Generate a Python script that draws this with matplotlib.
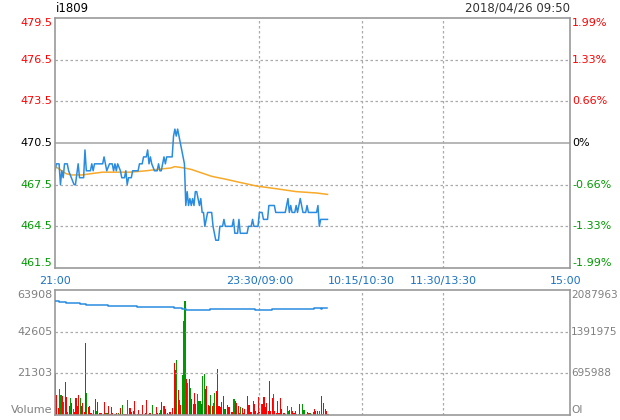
import numpy as np
import matplotlib.pyplot as plt

# price line readings (minute since 21:00, price)
price_t = [0, 1, 3, 4, 5, 6, 7, 9, 10, 12, 14, 15, 17, 18, 21, 22, 23, 26, 27, 28,
           29, 35, 36, 38, 40, 42, 43, 44, 45, 46, 48, 49, 51, 52, 53, 54, 56, 57, 61, 62,
           64, 65, 67, 68, 69, 70, 71, 73, 75, 76, 77, 78, 79, 80, 81, 82, 86, 87, 88, 89,
           90, 91, 92, 93, 95, 96, 97, 98, 99, 100, 101, 102, 103, 104, 105, 106, 107, 108, 109, 110,
           111, 112, 115, 116, 117, 118, 120, 121, 123, 124, 125, 130, 131, 132, 134, 135, 136, 141, 142, 144,
           145, 146, 149, 150, 152, 153, 156, 157, 161, 162, 169, 170, 171, 172, 173, 174, 176, 177, 178, 179,
           180, 181, 182, 184, 185, 186, 192, 193, 194, 195, 200]
price_v = [468.5, 469.0, 469.0, 467.5, 468.5, 468.0, 469.0, 469.0, 468.5, 468.0, 467.5, 467.5, 469.0, 468.0, 468.0, 470.0, 468.5, 468.5, 469.0, 468.5,
           469.0, 469.0, 469.5, 468.5, 469.0, 469.0, 468.5, 469.0, 468.5, 469.0, 468.5, 468.0, 468.0, 468.5, 467.5, 468.0, 468.0, 468.5, 468.5, 469.0,
           469.0, 469.5, 469.5, 470.0, 469.0, 469.5, 469.0, 468.5, 468.5, 469.0, 468.5, 468.5, 469.0, 469.5, 469.0, 469.5, 469.5, 471.0, 471.5, 471.0,
           471.5, 471.0, 470.5, 470.0, 469.0, 466.0, 467.0, 466.0, 466.5, 466.0, 466.5, 466.0, 467.0, 467.0, 466.5, 466.0, 466.5, 465.5, 465.5, 464.5,
           465.0, 465.5, 465.5, 464.5, 464.0, 463.5, 463.5, 464.5, 464.5, 465.0, 464.5, 464.5, 465.0, 464.0, 464.0, 465.0, 464.0, 464.0, 464.5, 464.5,
           465.0, 464.5, 464.5, 465.5, 465.5, 465.0, 465.0, 466.0, 466.0, 465.5, 465.5, 466.0, 466.5, 465.5, 466.0, 465.5, 465.5, 466.0, 465.5, 466.0,
           466.5, 466.0, 465.5, 465.5, 466.0, 465.5, 465.5, 466.0, 464.5, 465.0, 465.0]

# average price line
avg_t = [0, 2, 5, 8, 12, 20, 27, 35, 45, 55, 67, 75, 85, 88, 95, 100, 106, 115, 125, 134,
         148, 163, 177, 192, 200]
avg_v = [468.8, 468.7, 468.5, 468.3, 468.2, 468.2, 468.3, 468.4, 468.4, 468.4, 468.5, 468.6, 468.7, 468.8, 468.7,
         468.6, 468.4, 468.1, 467.9, 467.7, 467.4, 467.2, 467.0, 466.9, 466.8]

# volume per minute, and bar colour (R = up, G = down)
volume = [21600, 10200, 3400, 13300, 10200, 9700, 6800, 16800, 9200, 1700,
          4600, 8700, 6100, 3100, 1700, 8700, 4600, 10200, 8700, 4600,
          6100, 1500, 36700, 11200, 4100, 4600, 1000, 500, 2600, 8200,
          2000, 6600, 1000, 1000, 1000, 500, 6600, 1000, 1000, 4600,
          500, 4100, 1000, 500, 500, 1000, 1000, 500, 3600, 5100,
          500, 500, 500, 7700, 3600, 3600, 1500, 2000, 7100, 500,
          500, 2600, 700, 500, 5100, 500, 1000,
          7650, 500, 1000, 1000, 5100, 500, 500, 4100, 1000, 1000,
          2600, 6600, 4600, 4600, 3100, 1000, 500, 1500, 500, 3600,
          26500, 23000, 28000, 12800, 7700, 5100, 20400, 48000, 58100, 18400,
          16300, 18400, 13800, 8200, 5600, 11200, 5600, 10700, 7100, 7100,
          5600, 19900, 20900, 13300, 14800, 5100, 4600, 10200, 4600, 6100,
          11200, 12200, 23500, 4600, 4100, 6600, 9700, 3100, 3100, 5100,
          4100, 4100, 1500, 1500, 8200, 7100, 6100,
          4600, 1000, 4100, 3600, 1000, 3100, 500, 9700, 5100, 1500,
          1500, 7100, 5600, 2000, 1000, 9200, 1500, 5600, 5600, 9200,
          4100, 6100, 2000, 17300, 2000, 8700, 10700, 2000, 1000, 7100,
          1000, 8700, 3100, 1000, 1000, 500, 4600, 2000, 2600, 4100,
          2000, 1000, 2000, 500, 500, 5600, 500, 5600, 2600, 2600,
          500, 1500, 1000, 1000, 500, 1500, 3100, 2000, 2000, 500,
          2000, 9700, 500, 6100, 3100, 2000, 500]
vol_dir = ("RRRGGRGRRG RGRGRRRRGR RRRGRRRRGR GRRRRRRGGR RRRGRRGGRG RRRGRRRRRR RRRRRRR"
           "RRRRGRRRRR GRGRRRRRRR RRGRGRGGGR GRGRRRRGGG RGGRRRRGRG GRRRRRRGRR RRRRGRR"
           "RGGRRRRRRR GRRRGRRGRR RRRRRRGRRR RRRRRRGGRG RRRRGRRGGG RRRGRRRRRG GRRRRRR").replace(" ", "")

# open interest steps
oi_t = [0, 3, 8, 18, 23, 39, 60, 87, 93, 96, 114, 147, 159, 190, 195, 196, 200]
oi_v = [1904000, 1882000, 1866000, 1849000, 1832000, 1816000, 1799000, 1782000, 1766000,
        1749000, 1766000, 1749000, 1766000, 1782000, 1766000, 1782000, 1782000]

price_ticks = [479.5, 476.5, 473.5, 470.5, 467.5, 464.5, 461.5]
pct_labels = ['1.99%', '1.33%', '0.66%', '0%', '-0.66%', '-1.33%', '-1.99%']
time_pos = [0, 150, 225, 285, 375]
time_labels = ['21:00', '23:30/09:00', '10:15/10:30', '11:30/13:30', '15:00']
vol_ticks = [63908, 42605, 21303, 0]
vol_labels = ['63908', '42605', '21303', 'Volume']
oi_labels = ['2087963', '1391975', '695988', 'OI']

RED = '#ff0000'
GREEN = '#009900'
GRID = '#aaaaaa'
BLUE = '#2a8ce0'

fig = plt.figure(figsize=(6.2, 4.2), dpi=100)
ax = fig.add_axes([55/620, 1 - 268/420, 515/620, 250/420])
axv = fig.add_axes([55/620, 1 - 415/420, 515/620, 125/420])

for a in (ax, axv):
    a.set_xlim(0, 378)
    a.set_xticks([])
    a.set_yticks([])
    for s in a.spines.values():
        s.set_color('#999999')
        s.set_linewidth(1.2)
    for t in time_pos[1:4]:
        a.axvline(t, color=GRID, lw=0.9, ls=(0, (2, 2)))

# price panel
ax.set_ylim(461.5, 479.5)
for p in [476.5, 473.5, 467.5, 464.5]:
    ax.axhline(p, color=GRID, lw=0.9, ls=(0, (2, 2)))
ax.axhline(470.5, color=GRID, lw=1.2)
ax.plot(avg_t, avg_v, color='#f7a928', lw=1.1)
ax.plot(price_t, price_v, color=BLUE, lw=1.1)

ytr = ax.get_yaxis_transform()
for i, (p, lab) in enumerate(zip(price_ticks, pct_labels)):
    col = RED if p > 470.5 else ('black' if p == 470.5 else GREEN)
    va = 'top' if i == 0 else ('bottom' if i == len(price_ticks) - 1 else 'center')
    ax.text(-0.005, p, f'{p:.1f}', transform=ytr, ha='right', va=va, color=col, fontsize=8)
    ax.text(1.004, p, lab, transform=ytr, ha='left', va=va, color=col, fontsize=8)

xtr = ax.get_xaxis_transform()
for t, lab in zip(time_pos, time_labels):
    ax.text(t, -0.052, lab, transform=xtr, ha='center', va='center', color='#1a72c4', fontsize=8)

fig.text(56/620, 1 - 8/420, 'i1809', ha='left', va='center', fontsize=8.5, color='black')
fig.text(570/620, 1 - 8/420, '2018/04/26 09:50', ha='right', va='center', fontsize=8.5, color='#333333')

# volume panel
axv.set_ylim(0, 63908)
for v in [42605, 21303]:
    axv.axhline(v, color=GRID, lw=0.9, ls=(0, (2, 2)))
mins = np.arange(len(volume))
cols = [RED if c == 'R' else GREEN for c in vol_dir[:len(volume)]]
axv.bar(mins, volume, width=0.8, color=cols, align='edge')

axo = axv.twinx()
axo.set_ylim(0, 2087963)
axo.set_xlim(0, 378)
axo.axis('off')
axo.plot(oi_t, oi_v, color=BLUE, lw=1.1, drawstyle='steps-post')

vtr = axv.get_yaxis_transform()
for i, (v, lab, olab) in enumerate(zip(vol_ticks, vol_labels, oi_labels)):
    va = 'top' if i == 0 else ('bottom' if i == len(vol_ticks) - 1 else 'center')
    axv.text(-0.005, v, lab, transform=vtr, ha='right', va=va, color='#808080', fontsize=8)
    axv.text(1.002, v, olab, transform=vtr, ha='left', va=va, color='#808080', fontsize=7.6)

fig.savefig('out.png', dpi=100)
